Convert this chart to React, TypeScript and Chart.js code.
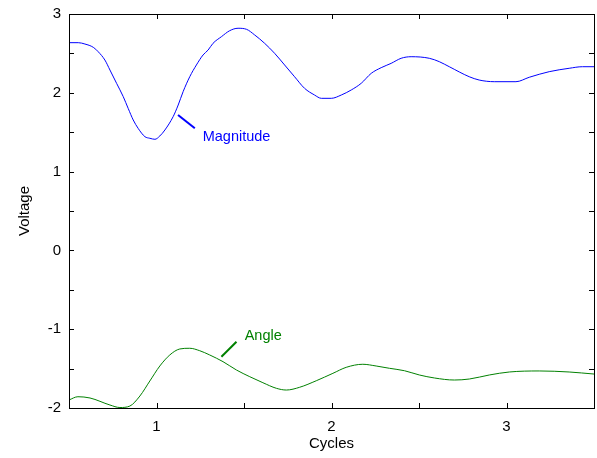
import React, { useEffect, useRef } from "react";
import { Chart, registerables } from "chart.js";

Chart.register(...registerables);

// Magnitude trace (cycles, volts)
const magCycles = [
  0.5, 0.553, 0.591, 0.639, 0.667, 0.705, 0.734, 0.772, 0.81, 0.838, 0.867,
  0.895, 0.934, 0.962, 0.991, 1.019, 1.048, 1.095, 1.124, 1.152, 1.19, 1.228,
  1.266, 1.295, 1.323, 1.371, 1.418, 1.466, 1.514, 1.561, 1.618, 1.675, 1.732,
  1.789, 1.846, 1.903, 1.942, 1.999, 2.056, 2.113, 2.17, 2.227, 2.284, 2.341,
  2.398, 2.455, 2.559, 2.616, 2.673, 2.787, 2.844, 2.93, 3.054, 3.13, 3.244,
  3.358, 3.434, 3.5,
];
const magVolts = [
  2.636, 2.636, 2.619, 2.577, 2.521, 2.416, 2.289, 2.12, 1.951, 1.803, 1.655,
  1.549, 1.443, 1.423, 1.41, 1.452, 1.528, 1.697, 1.845, 2.014, 2.204, 2.353,
  2.48, 2.543, 2.628, 2.712, 2.788, 2.819, 2.806, 2.734, 2.628, 2.501, 2.353,
  2.204, 2.057, 1.972, 1.93, 1.93, 1.972, 2.036, 2.121, 2.247, 2.319, 2.374,
  2.438, 2.458, 2.438, 2.395, 2.331, 2.204, 2.162, 2.141, 2.141, 2.197, 2.268,
  2.311, 2.331, 2.331,
];

// Angle trace (cycles, volts)
const angCycles = [
  0.5, 0.551, 0.62, 0.734, 0.791, 0.848, 0.905, 0.962, 1.019, 1.076, 1.133,
  1.19, 1.247, 1.304, 1.38, 1.457, 1.533, 1.608, 1.685, 1.742, 1.818, 1.913,
  2.008, 2.084, 2.179, 2.255, 2.331, 2.417, 2.502, 2.588, 2.702, 2.788, 2.902,
  3.016, 3.187, 3.358, 3.5,
];
const angVolts = [
  -1.898, -1.857, -1.873, -1.962, -1.994, -1.975, -1.848, -1.657, -1.467,
  -1.327, -1.251, -1.242, -1.273, -1.327, -1.412, -1.518, -1.603, -1.679,
  -1.75, -1.772, -1.737, -1.654, -1.56, -1.484, -1.445, -1.467, -1.496,
  -1.527, -1.581, -1.619, -1.645, -1.632, -1.581, -1.543, -1.53, -1.543,
  -1.569,
];

// Axis ranges and tick step
const xRange = [0.5, 3.5];
const yRange = [-2, 3];
const tickStep = 0.5;

// Callout labels: text position and leader line ends, in data units
const magLabel = { text: "Magnitude", x: 1.264, y: 1.439, from: [1.123, 1.718], to: [1.219, 1.549] };
const angLabel = { text: "Angle", x: 1.504, y: -1.086, from: [1.457, -1.159], to: [1.371, -1.349] };

const FONT = "'Liberation Sans', Arial, Helvetica, sans-serif";
const BLUE = "#0000ff";
const GREEN = "#008000";

const toPoints = (xs: number[], ys: number[]) => xs.map((x, i) => ({ x, y: ys[i] }));
const isWhole = (v: number) => Math.abs(v - Math.round(v)) < 1e-9;

// Boxed axes with inward ticks on all four sides, plus the callouts
const framePlugin = {
  id: "frame",
  afterDraw(chart: any) {
    const { ctx, chartArea: a, scales } = chart;
    const xs = scales.x;
    const ys = scales.y;
    const len = 5;
    ctx.save();
    ctx.strokeStyle = "#000";
    ctx.lineWidth = 1;
    ctx.strokeRect(Math.round(a.left) + 0.5, Math.round(a.top) + 0.5, Math.round(a.right - a.left), Math.round(a.bottom - a.top));
    ctx.beginPath();
    for (let v = xRange[0] + tickStep; v < xRange[1] - 1e-9; v += tickStep) {
      const px = Math.round(xs.getPixelForValue(v)) + 0.5;
      ctx.moveTo(px, a.bottom);
      ctx.lineTo(px, a.bottom - len);
      ctx.moveTo(px, a.top);
      ctx.lineTo(px, a.top + len);
    }
    for (let v = yRange[0] + tickStep; v < yRange[1] - 1e-9; v += tickStep) {
      const py = Math.round(ys.getPixelForValue(v)) + 0.5;
      ctx.moveTo(a.left, py);
      ctx.lineTo(a.left + len, py);
      ctx.moveTo(a.right, py);
      ctx.lineTo(a.right - len, py);
    }
    ctx.stroke();

    const callout = (c: any, color: string) => {
      ctx.strokeStyle = color;
      ctx.lineWidth = 2;
      ctx.beginPath();
      ctx.moveTo(xs.getPixelForValue(c.from[0]), ys.getPixelForValue(c.from[1]));
      ctx.lineTo(xs.getPixelForValue(c.to[0]), ys.getPixelForValue(c.to[1]));
      ctx.stroke();
      ctx.fillStyle = color;
      ctx.font = `14.5px ${FONT}`;
      ctx.textAlign = "left";
      ctx.textBaseline = "middle";
      ctx.fillText(c.text, xs.getPixelForValue(c.x), ys.getPixelForValue(c.y));
    };
    callout(magLabel, BLUE);
    callout(angLabel, GREEN);
    ctx.restore();
  },
};

export default function App() {
  const canvasRef = useRef<HTMLCanvasElement | null>(null);

  useEffect(() => {
    const canvas = canvasRef.current;
    if (!canvas) return;
    const tickFont = { family: FONT, size: 15 };
    const chart = new Chart(canvas, {
      type: "line",
      data: {
        datasets: [
          {
            label: "Magnitude",
            data: toPoints(magCycles, magVolts),
            borderColor: BLUE,
            borderWidth: 1,
            pointRadius: 0,
            cubicInterpolationMode: "monotone",
            fill: false,
          },
          {
            label: "Angle",
            data: toPoints(angCycles, angVolts),
            borderColor: GREEN,
            borderWidth: 1,
            pointRadius: 0,
            cubicInterpolationMode: "monotone",
            fill: false,
          },
        ],
      },
      options: {
        animation: false,
        responsive: false,
        devicePixelRatio: 1,
        layout: { padding: { top: 14, right: 3, left: 0, bottom: 0 } },
        plugins: { legend: { display: false }, tooltip: { enabled: false } },
        scales: {
          x: {
            type: "linear",
            min: xRange[0],
            max: xRange[1],
            grid: { display: false, drawTicks: false },
            border: { display: false },
            ticks: {
              stepSize: tickStep,
              autoSkip: false,
              maxRotation: 0,
              padding: 10,
              color: "#000",
              font: tickFont,
              callback: (v: any) => (isWhole(Number(v)) ? String(Math.round(Number(v))) : ""),
            },
            title: { display: true, text: "Cycles", color: "#000", font: tickFont, padding: { top: 0, bottom: 5 } },
            afterFit: (s: any) => {
              s.height = 50;
              s.paddingLeft = 0;
              s.paddingRight = 0;
            },
          },
          y: {
            type: "linear",
            min: yRange[0],
            max: yRange[1],
            grid: { display: false, drawTicks: false },
            border: { display: false },
            ticks: {
              stepSize: tickStep,
              autoSkip: false,
              padding: 8,
              color: "#000",
              font: tickFont,
              callback: (v: any) => (isWhole(Number(v)) ? String(Math.round(Number(v))) : ""),
            },
            title: { display: true, text: "Voltage", color: "#000", font: tickFont, padding: { top: 16, bottom: 0 } },
            afterFit: (s: any) => {
              s.width = 69;
              s.paddingTop = 0;
              s.paddingBottom = 0;
            },
          },
        },
      },
      plugins: [framePlugin],
    });
    return () => chart.destroy();
  }, []);

  return (
    <div style={{ position: "fixed", left: 0, top: 0, width: 597, height: 458, background: "#fff" }}>
      <canvas ref={canvasRef} width={597} height={458} style={{ display: "block", width: 597, height: 458 }} />
    </div>
  );
}
